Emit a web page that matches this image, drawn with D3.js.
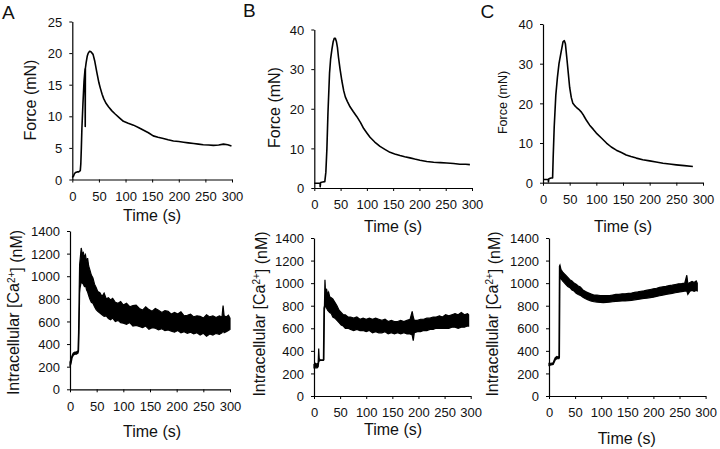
<!DOCTYPE html>
<html><head><meta charset="utf-8">
<script src="https://cdn.jsdelivr.net/npm/d3@7/dist/d3.min.js"></script>
<style>
html,body{margin:0;padding:0;background:#fff;}
svg{display:block;font-family:"Liberation Sans",Arial,sans-serif;}
</style></head><body>
<svg id="c" width="720" height="449"></svg>
<script>
// ---------- DATA ----------
const panelLetters = ["A", "B", "C"];
const timeTicks = [0, 50, 100, 150, 200, 250, 300];
const forceTicksA = [0, 5, 10, 15, 20, 25];
const forceTicksBC = [0, 10, 20, 30, 40];
const caTicks = [0, 200, 400, 600, 800, 1000, 1200, 1400];

// Force traces (time s, force mN)
const forceA_t = [0,2,4,6,9,12,15,16,17,18,20,22,24,24.3,24.6,26,28,30,32.5,35,39,42,46,50,52.5,56,59,63,68,74,80,88,96,105,115,125,134,143,152,161,171,180,190,200,209,218,228,237,246,256,265,275,284,292,299];
const forceA_v = [0.3,0.5,0.9,1.1,1.2,1.2,1.4,2.5,5,8,12,15.5,17.5,8.4,17.6,18.5,19.5,20,20.3,20.2,19.8,18.8,17,15.3,14.5,13.5,12.8,12.1,11.5,10.9,10.4,9.8,9.2,8.9,8.6,8.2,7.8,7.4,6.9,6.7,6.5,6.3,6.1,6.0,5.9,5.8,5.7,5.6,5.5,5.45,5.4,5.45,5.6,5.5,5.3];

const forceB_t = [0,5,11,11.2,12,16,20,22,24,26,29,31,33.5,36,38,40,42,44,46,49,52.5,56,59,63,68,74,81,88,94,100,106,115,125,135,144,153,163,172,182,191,201,214,227,240,252,265,277,288,296];
const forceB_v = [1.2,1.2,1.2,0.3,1.4,1.5,1.6,4,10,19,29,32.5,35,37,37.8,37.8,37,35.5,33,30,27,24.5,23,21.8,20.5,19.3,18,16.5,15,13.9,12.8,11.6,10.5,9.7,9,8.6,8.2,7.9,7.6,7.3,7.0,6.7,6.5,6.4,6.3,6.2,6.0,6.0,5.9];

const forceC_t = [0,5,10,10.2,11,15,18,19,21,24,27,30,34,37.5,40,42,45,47.5,50,53,56,59,62.5,67,72,75,78,82,87.5,94,100,110,119,128,137.5,147,156,165,175,187,200,212,225,237,250,265,281];
const forceC_v = [0.8,0.8,0.8,0.2,1.0,1.2,1.2,6,14,22,26.5,30,33,35.5,35.8,35,31,27.5,24,21.5,20,19.5,19,18.5,17.8,17.2,16.5,15.6,14.5,13.5,12.5,11.2,10,9,8.2,7.6,7.0,6.6,6.2,5.8,5.5,5.2,4.9,4.7,4.5,4.3,4.1];

// Intracellular Ca2+ traces as noise envelopes (time s, upper nM, lower nM)
const caA_t  = [0,2,4,6,9,12,15,16,17,18,19,21,23,25,27,29,31,33,35,37,40,43,46,49,52,56,60,64,68,72,76,80,85,90,95,100,106,112,118,124,130,136,142,148,154,160,166,172,178,184,190,196,202,208,214,220,226,232,238,244,250,256,262,268,274,280,285,287,289,293,297,300];
const caA_hi = [240,270,300,320,330,330,340,500,800,1100,1150,1250,1200,1210,1170,1190,1130,1160,1090,1060,1010,985,930,900,865,855,
                820,850,800,810,790,805,770,760,775,745,760,730,740,745,715,700,730,705,690,715,700,680,695,690,665,680,665,685,650,655,665,640,650,645,630,660,640,650,635,650,640,740,650,640,655,630];
const caA_lo = [200,230,280,300,310,310,320,340,500,850,900,950,940,930,910,920,880,860,830,800,770,760,730,705,690,675,
                660,645,650,625,615,630,600,610,590,585,575,590,560,565,555,545,560,530,545,540,525,535,520,525,515,505,520,500,510,495,505,490,500,480,495,470,490,480,495,485,500,520,500,510,520,530];

const caB_t  = [0,3,6,8,9,10,12,18,19,20,21,22,24,26,28,30,33,36,40,44,48,52,56,60,65,70,76,82,88,94,100,106,112,118,124,130,136,142,148,154,160,166,172,178,184,188,190,192,198,204,210,216,222,228,234,240,246,252,258,264,270,276,282,288,294,296];
const caB_hi = [280,290,280,300,420,330,320,320,780,800,1030,920,950,900,920,880,870,860,830,800,760,740,720,720,700,700,690,700,680,690,680,690,680,690,680,670,680,660,670,660,660,670,660,670,680,750,700,670,670,680,680,690,690,700,700,710,700,720,710,720,730,720,740,720,730,720];
const caB_lo = [250,250,250,260,300,310,315,315,320,760,800,800,780,760,750,740,730,700,690,670,650,630,620,600,600,590,580,590,580,580,570,580,560,570,560,560,570,550,560,550,560,550,560,550,550,540,490,560,570,570,580,580,590,590,600,600,600,600,600,610,610,600,610,610,620,620];

const caC_t  = [0,4,8,10,12,15,17,19,20,21,23,26,29,32,36,40,44,48,52,56,60,65,70,75,80,86,92,98,104,110,116,122,128,134,140,146,152,158,164,170,176,182,188,194,200,206,212,218,224,230,236,242,248,254,260,264,266,270,274,278,282,284];
const caC_hi = [290,290,295,320,340,350,345,350,1150,1160,1120,1100,1085,1070,1050,1030,1020,1000,990,975,965,940,925,915,905,895,895,890,890,890,890,895,900,900,905,905,910,912,918,922,928,932,938,944,950,955,962,968,972,978,982,988,994,996,1000,1070,995,1005,1015,1005,1020,1000];
const caC_lo = [270,275,280,300,320,330,330,330,340,1080,1040,1020,1005,990,970,960,940,930,910,900,892,875,862,852,842,835,832,830,828,830,832,835,838,840,842,842,845,848,852,856,860,864,868,872,876,882,888,894,900,905,910,915,920,925,930,930,900,928,935,928,935,932];

// ---------- LAYOUT ----------
const FONT = '"Liberation Sans", Arial, sans-serif';
const svg = d3.select("#c");

const forcePanels = [
  {t: forceA_t, v: forceA_v, ticks: forceTicksA, max: 25, x0: 72.3, x1: 232, yb: 179.5, yt: 21.5,
   lab: {x: 36, y: 100, fs: 16}, tt: {x: 152, y: 221}},
  {t: forceB_t, v: forceB_v, ticks: forceTicksBC, max: 40, x0: 314.3, x1: 472, yb: 188, yt: 29.5,
   lab: {x: 280, y: 107.5, fs: 16}, tt: {x: 393, y: 232}},
  {t: forceC_t, v: forceC_v, ticks: forceTicksBC, max: 40, x0: 543, x1: 703, yb: 182.7, yt: 24,
   lab: {x: 507, y: 102.5, fs: 12.5}, tt: {x: 623, y: 232}}
];
const caPanels = [
  {t: caA_t, hi: caA_hi, lo: caA_lo, x0: 70, x1: 230, yb: 389.3, yt: 231,
   lab: {x: 19, y: 312.5}, tt: {x: 152, y: 437}},
  {t: caB_t, hi: caB_hi, lo: caB_lo, x0: 314, x1: 470.7, yb: 396, yt: 238,
   lab: {x: 264.5, y: 314}, tt: {x: 393, y: 435}},
  {t: caC_t, hi: caC_hi, lo: caC_lo, x0: 549, x1: 705.6, yb: 396, yt: 238,
   lab: {x: 497.5, y: 314}, tt: {x: 626.7, y: 444}}
];
const letterPos = [{x: 2, y: 18.5}, {x: 243, y: 17}, {x: 480.5, y: 17.5}];

function styleAxis(g) {
  g.selectAll("path.domain").attr("stroke", "#000").attr("stroke-width", 1.2);
  g.selectAll(".tick line").attr("stroke", "#000").attr("stroke-width", 1);
  g.selectAll(".tick text").attr("fill", "#111").style("font-family", FONT).style("font-size", "13px");
}

function drawAxes(p, yScale, yTicks) {
  const x = d3.scaleLinear().domain([0, 300]).range([p.x0, p.x1]);
  const gx = svg.append("g").attr("transform", `translate(0,${p.yb})`)
    .call(d3.axisBottom(x).tickValues(timeTicks).tickSize(3).tickSizeOuter(0).tickPadding(9).tickFormat(d3.format("d")));
  styleAxis(gx);
  const gy = svg.append("g").attr("transform", `translate(${p.x0},0)`)
    .call(d3.axisLeft(yScale).tickValues(yTicks).tickSize(3).tickSizeOuter(0).tickPadding(7).tickFormat(d3.format("d")));
  styleAxis(gy);
  gy.selectAll(".tick text").attr("dy", "0.36em");
  svg.append("text").attr("x", p.tt.x).attr("y", p.tt.y).attr("text-anchor", "middle")
    .style("font-family", FONT).style("font-size", "16px").attr("fill", "#111").text("Time (s)");
  return x;
}

forcePanels.forEach(p => {
  const y = d3.scaleLinear().domain([0, p.max]).range([p.yb, p.yt]);
  const x = drawAxes(p, y, p.ticks);
  const pts = p.t.map((t, i) => [t, p.v[i]]);
  svg.append("path").datum(pts)
    .attr("d", d3.line().x(d => x(d[0])).y(d => y(d[1])))
    .attr("fill", "none").attr("stroke", "#000").attr("stroke-width", 1.6).attr("stroke-linejoin", "round");
  svg.append("text").attr("transform", `translate(${p.lab.x},${p.lab.y}) rotate(-90)`)
    .attr("text-anchor", "middle").style("font-family", FONT).style("font-size", p.lab.fs + "px")
    .attr("fill", "#111").text("Force (mN)");
});

caPanels.forEach(p => {
  const y = d3.scaleLinear().domain([0, 1400]).range([p.yb, p.yt]);
  const x = drawAxes(p, y, caTicks);
  const pts = p.t.map((t, i) => ({t: t, hi: p.hi[i], lo: p.lo[i]}));
  svg.append("path").datum(pts)
    .attr("d", d3.area().x(d => x(d.t)).y0(d => y(d.lo)).y1(d => y(d.hi)))
    .attr("fill", "#000").attr("stroke", "#000").attr("stroke-width", 1.2).attr("stroke-linejoin", "miter");
  const txt = svg.append("text").attr("transform", `translate(${p.lab.x},${p.lab.y}) rotate(-90)`)
    .attr("text-anchor", "middle").style("font-family", FONT).style("font-size", "16px").attr("fill", "#111");
  txt.append("tspan").text("Intracellular [Ca");
  txt.append("tspan").attr("dy", "-0.45em").style("font-size", "10px").text("2+");
  txt.append("tspan").attr("dy", "0.45em").text("] (nM)");
});

panelLetters.forEach((L, i) => {
  svg.append("text").attr("x", letterPos[i].x).attr("y", letterPos[i].y)
    .style("font-family", FONT).style("font-size", "19px").attr("fill", "#111").text(L);
});
</script>
</body></html>
